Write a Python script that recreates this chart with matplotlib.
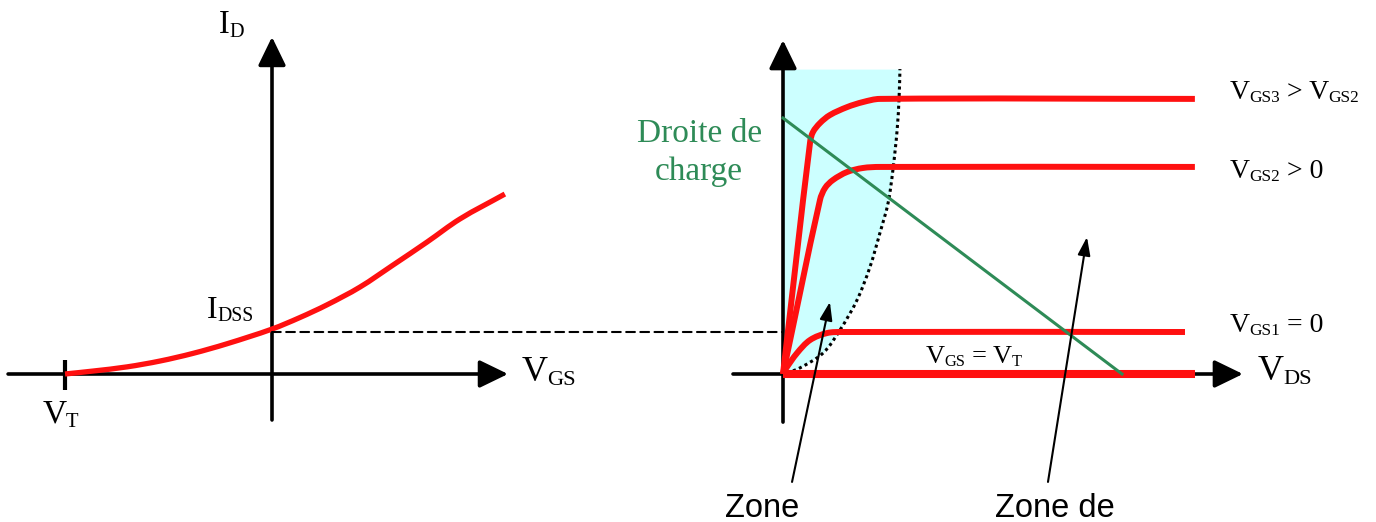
import matplotlib
matplotlib.use("Agg")
import matplotlib.pyplot as plt
import numpy as np
from matplotlib.patches import ConnectionPatch, PathPatch
from matplotlib.path import Path
from matplotlib.transforms import offset_copy

plt.rcParams['font.family'] = ['Liberation Serif', 'DejaVu Serif']

# ---------------- data ----------------
# Transfer characteristic  I_D(V_GS)
VT = -4.0
IDSS = 2.0
transfer_vgs = [-4.0, -3.46, -2.80, -2.16, -1.53, -0.87, 0.0, 0.54, 1.06, 1.70, 2.34, 3.00, 3.63, 4.50]
transfer_id = [0.0, 0.14, 0.34, 0.62, 0.98, 1.44, 2.14, 2.69, 3.29, 4.14, 5.19, 6.29, 7.38, 8.57]

# Output characteristics  I_D(V_DS)
vgs3_vds = [0.0, 0.96, 1.06, 1.31, 1.66, 2.27, 2.83, 3.43, 14.58]
vgs3_id = [0.0, 11.05, 11.52, 11.95, 12.33, 12.71, 12.95, 13.10, 13.10]
vgs2_vds = [0.0, 1.31, 1.49, 1.77, 2.27, 2.83, 3.43, 14.58]
vgs2_id = [0.0, 8.29, 8.86, 9.24, 9.62, 9.81, 9.86, 9.86]
vgs1_vds = [0.0, 0.07, 0.5, 0.96, 1.56, 2.12, 14.23]
vgs1_id = [0.0, 0.19, 1.0, 1.62, 1.95, 2.0, 2.0]
vgsvt_vds = [0.0, 14.58]
vgsvt_id = [0.0, 0.0]

# Ohmic zone boundary (dotted)
bound_id = [0.05, 0.29, 1.0, 2.10, 3.52, 5.10, 6.71, 8.14, 9.71, 11.62, 13.19, 14.52]
bound_vds = [0.14, 0.60, 1.42, 2.02, 2.62, 3.08, 3.43, 3.72, 3.89, 4.04, 4.11, 4.14]

# Load line
VDD = 12.0
ID_MAX = 12.19
load_vds = [0.0, VDD]
load_id = [ID_MAX, 0.0]

# ---------------- figure ----------------
W, H = 1376, 522
DPI = 100
fig = plt.figure(figsize=(W / DPI, H / DPI), dpi=DPI)
axL = fig.add_axes([0, 0, 1, 1])
axR = fig.add_axes([0, 0, 1, 1])
axR.patch.set_alpha(0)
for a in (axL, axR):
    a.set_axis_off()

idpx = 21.0
id_lim = ((374 - H) / idpx, 374 / idpx)
axL.set_xlim(-272 / 51.75, (W - 272) / 51.75)
axL.set_ylim(*id_lim)
axR.set_xlim(-783 / 28.25, (W - 783) / 28.25)
axR.set_ylim(*id_lim)

RED = '#FF1010'
GREEN = '#2E8B57'
CYAN = '#CCFFFF'
renderer = fig.canvas.get_renderer()


def smooth_curve(ax, xs, ys, **kw):
    """Draw a smooth (cubic Bezier) curve passing through the data points."""
    tr = ax.transData
    P = tr.transform(np.column_stack([xs, ys]))
    n = len(P)
    tang = np.zeros_like(P)
    for i in range(n):
        if i == 0:
            d = P[1] - P[0]
        elif i == n - 1:
            d = P[-1] - P[-2]
        else:
            d = P[i + 1] - P[i - 1]
        tang[i] = d / np.hypot(*d)
    verts = [P[0]]
    codes = [Path.MOVETO]
    for i in range(n - 1):
        L = np.hypot(*(P[i + 1] - P[i]))
        verts += [P[i] + tang[i] * L / 3, P[i + 1] - tang[i + 1] * L / 3, P[i + 1]]
        codes += [Path.CURVE4] * 3
    verts = tr.inverted().transform(np.array(verts))
    patch = PathPatch(Path(verts, codes), fill=False, **kw)
    ax.add_patch(patch)
    return patch


def rich(ax, x, y, parts, size, color='black', sub_scale=0.62):
    """parts: list of (text, is_subscript)"""
    dx = 0.0
    prev_sub = None
    for s, sub in parts:
        fs = size * sub_scale if sub else size
        dy = -size * 0.11 if sub else 0.0
        if prev_sub is False and sub:
            dx -= 0.02 * size
        lead = len(s) - len(s.lstrip(' '))
        dx += lead * 0.22 * size
        core = s.strip(' ')
        t = ax.text(x, y, core, fontsize=fs, color=color, va='baseline', ha='left',
                    transform=offset_copy(ax.transData, fig=fig, x=dx, y=dy, units='points'))
        w = t.get_window_extent(renderer).width * 72.0 / DPI
        dx += w + 0.01 * size
        prev_sub = sub


def axis_arrow(ax, start, tip, lw=2.6):
    ax.annotate('', xy=tip, xytext=start, zorder=2,
                arrowprops=dict(arrowstyle='-|>,head_length=1.75,head_width=0.85',
                                mutation_scale=10, lw=lw, color='black',
                                shrinkA=0, shrinkB=0))


# ---- left panel ----
axis_arrow(axL, (-5.10, 0), (4.56, 0))
axis_arrow(axL, (0, -2.19), (0, 16.05))
axL.plot([VT, VT], [0.67, -0.76], color='black', lw=3.0, solid_capstyle='butt', zorder=2)
smooth_curve(axL, transfer_vgs, transfer_id, edgecolor=RED, lw=3.8, zorder=3,
             joinstyle='round', capstyle='butt')

rich(axL, -1.02, 16.24, [('I', False), ('D', True)], 23.5)
rich(axL, -1.26, 2.67, [('I', False), ('DSS', True)], 23)
rich(axL, 4.83, -0.33, [('V', False), ('GS', True)], 26)
rich(axL, -4.44, -2.33, [('V', False), ('T', True)], 24)

con = ConnectionPatch((0, IDSS), (0, IDSS), coordsA=axL.transData, coordsB=axR.transData,
                      linestyle=(0, (4.2, 2.6)), lw=1.5, color='black', zorder=1)
fig.add_artist(con)

# ---- right panel ----
axR.fill_betweenx(bound_id, 0, bound_vds, color=CYAN, lw=0, zorder=0)
smooth_curve(axR, bound_vds, bound_id, edgecolor='black', lw=2.2, linestyle=(0, (1, 1.1)),
             capstyle='butt', zorder=1)
axis_arrow(axR, (-1.77, 0), (16.28, 0))
axis_arrow(axR, (0, -2.29), (0, 15.90))

for xs, ys in [(vgs3_vds, vgs3_id), (vgs2_vds, vgs2_id), (vgs1_vds, vgs1_id)]:
    smooth_curve(axR, xs, ys, edgecolor=RED, lw=4.3, zorder=3, joinstyle='round',
                 capstyle='butt')
axR.plot(vgsvt_vds, vgsvt_id, color=RED, lw=5.8, zorder=3, solid_capstyle='butt')
axR.plot(load_vds, load_id, color=GREEN, lw=2.2, zorder=4)

rich(axR, 15.82, 13.10, [('V', False), ('GS3', True), (' > V', False), ('GS2', True)], 20)
rich(axR, 15.82, 9.33, [('V', False), ('GS2', True), (' > 0', False)], 20)
rich(axR, 15.82, 2.0, [('V', False), ('GS1', True), (' = 0', False)], 20)
rich(axR, 5.06, 0.52, [('V', False), ('GS', True), (' = V', False), ('T', True)], 19)
rich(axR, 16.81, -0.29, [('V', False), ('DS', True)], 26)

axR.text(-2.97, 11.05, 'Droite de', fontsize=24, color=GREEN, va='baseline', ha='center')
axR.text(-2.97, 9.24, 'charge', fontsize=24, color=GREEN, va='baseline', ha='center')

for tail, tip in [((0.32, -5.14), (1.66, 3.43)), ((9.38, -5.14), (10.76, 6.52))]:
    axR.annotate('', xy=tip, xytext=tail, zorder=5,
                 arrowprops=dict(arrowstyle='-|>,head_length=1.1,head_width=0.38',
                                 mutation_scale=10, lw=1.5, color='black',
                                 shrinkA=0, shrinkB=0))

axR.text(-2.05, -6.81, 'Zone', fontsize=23.5, family=['Liberation Sans', 'DejaVu Sans'],
         va='baseline', ha='left')
axR.text(7.50, -6.81, 'Zone de', fontsize=23.5, family=['Liberation Sans', 'DejaVu Sans'],
         va='baseline', ha='left')

fig.savefig('out.png', dpi=DPI)
